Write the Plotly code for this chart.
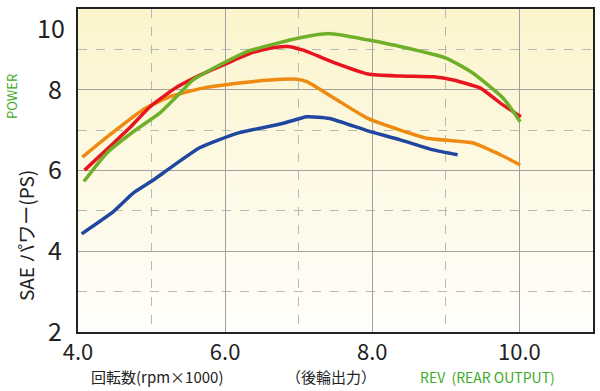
import plotly.graph_objects as go

# REV (rpm x 1000) and POWER (PS) per curve
green_x = [4.08, 4.39, 4.75, 5.11, 5.34, 5.56, 5.88, 6.29, 6.70, 7.02, 7.38, 7.60, 7.95, 8.38, 9.01, 9.37, 9.78, 10.01]
green_y = [5.73, 6.43, 6.96, 7.42, 7.83, 8.24, 8.57, 8.94, 9.15, 9.29, 9.39, 9.35, 9.23, 9.07, 8.78, 8.41, 7.79, 7.21]

red_x = [4.09, 4.43, 4.70, 4.98, 5.34, 5.61, 5.97, 6.34, 6.61, 6.84, 7.06, 7.50, 7.94, 8.38, 8.83, 9.10, 9.47, 9.74, 10.02]
red_y = [6.01, 6.59, 7.05, 7.58, 8.06, 8.32, 8.61, 8.90, 9.03, 9.07, 8.98, 8.66, 8.39, 8.34, 8.32, 8.24, 8.04, 7.67, 7.33]

orange_x = [4.06, 4.43, 4.88, 5.25, 5.70, 6.16, 6.61, 6.97, 7.11, 7.50, 7.94, 8.38, 8.74, 9.37, 9.74, 10.01]
orange_y = [6.33, 6.88, 7.50, 7.83, 8.04, 8.16, 8.24, 8.26, 8.20, 7.77, 7.29, 7.00, 6.80, 6.68, 6.39, 6.14]

blue_x = [4.05, 4.48, 4.75, 5.03, 5.25, 5.66, 6.16, 6.79, 7.11, 7.42, 7.94, 8.38, 8.83, 9.16]
blue_y = [4.43, 4.98, 5.44, 5.77, 6.06, 6.57, 6.92, 7.17, 7.33, 7.29, 6.98, 6.76, 6.51, 6.39]

x_ticks = [4, 6, 8, 10]
x_tick_text = ["4.0", "6.0", "8.0", "10.0"]
y_ticks = [2, 4, 6, 8]
y_top_label = "10"

series = [
    (orange_x, orange_y, "#EE8A10"),
    (blue_x, blue_y, "#1F47A0"),
    (red_x, red_y, "#E8141F"),
    (green_x, green_y, "#6FB02A"),
]

fig = go.Figure()

# vertical gradient background
n = 40
top = (251, 244, 204)
bot = (255, 254, 250)
for i in range(n):
    t = i / (n - 1)
    c = tuple(round(top[k] + (bot[k] - top[k]) * t) for k in range(3))
    fig.add_shape(type="rect", xref="x domain", yref="y domain",
                  x0=0, x1=1, y0=1 - (i + 1) / n, y1=1 - i / n,
                  fillcolor="rgb(%d,%d,%d)" % c, line_width=0, layer="below")

for xs, ys, col in series:
    fig.add_trace(go.Scatter(x=xs, y=ys, mode="lines",
                             line=dict(color=col, width=3.5, shape="spline", smoothing=0.5),
                             showlegend=False, hoverinfo="skip"))

font_family = "Noto Sans CJK JP, Noto Sans, sans-serif"

fig.update_layout(
    width=600, height=391,
    margin=dict(l=78, r=7, t=9, b=59, autoexpand=False),
    paper_bgcolor="white",
    plot_bgcolor="rgba(0,0,0,0)",
    font=dict(family=font_family, color="#222"),
    xaxis=dict(range=[4, 11], tickvals=x_ticks, ticktext=x_tick_text, automargin=False,
               showgrid=True, gridcolor="#a0a0a0", gridwidth=1,
               minor=dict(dtick=1, tick0=0, showgrid=True, gridcolor="#b8b8b8", griddash="dash", gridwidth=1),
               showline=True, linecolor="#222", linewidth=2, mirror=True,
               ticks="", zeroline=False, tickfont=dict(size=22, color="#222"),
               ticklabelstandoff=0),
    yaxis=dict(range=[2, 10], tickvals=y_ticks, automargin=False,
               showgrid=True, gridcolor="#a0a0a0", gridwidth=1,
               minor=dict(dtick=1, tick0=0, showgrid=True, gridcolor="#b8b8b8", griddash="dash", gridwidth=1),
               showline=True, linecolor="#222", linewidth=2, mirror=True,
               ticks="", zeroline=False, tickfont=dict(size=25, color="#222"),
               ticklabelstandoff=9),
)

fig.add_annotation(text=y_top_label, xref="paper", yref="paper",
                   x=0, y=1, xshift=-11, yshift=2, xanchor="right", yanchor="top", showarrow=False,
                   font=dict(size=25, color="#222"))
fig.add_annotation(text="回転数(rpm×1000)", xref="paper", yref="paper",
                   x=0.022, y=-0.177, xanchor="left", yanchor="bottom", showarrow=False,
                   font=dict(size=15, color="#222"))
fig.add_annotation(text="（後輪出力）", xref="paper", yref="paper",
                   x=0.40, y=-0.177, xanchor="left", yanchor="bottom", showarrow=False,
                   font=dict(size=15, color="#222"))
fig.add_annotation(text="REV  (REAR OUTPUT)", xref="paper", yref="paper",
                   x=0.66, y=-0.177, xanchor="left", yanchor="bottom", showarrow=False,
                   font=dict(size=14, color="#3FAA2A"))
fig.add_annotation(text="SAE パワー(PS)", xref="paper", yref="paper",
                   x=-0.103, y=0.30, xanchor="center", yanchor="middle", showarrow=False,
                   textangle=-90, font=dict(size=19, color="#222"))
fig.add_annotation(text="POWER", xref="paper", yref="paper",
                   x=-0.128, y=0.728, xanchor="center", yanchor="middle", showarrow=False,
                   textangle=-90, font=dict(size=13, color="#3FAA2A"))

fig.write_html("out.html", config={"displayModeBar": False},
               post_script="document.body.style.margin='0px';")
